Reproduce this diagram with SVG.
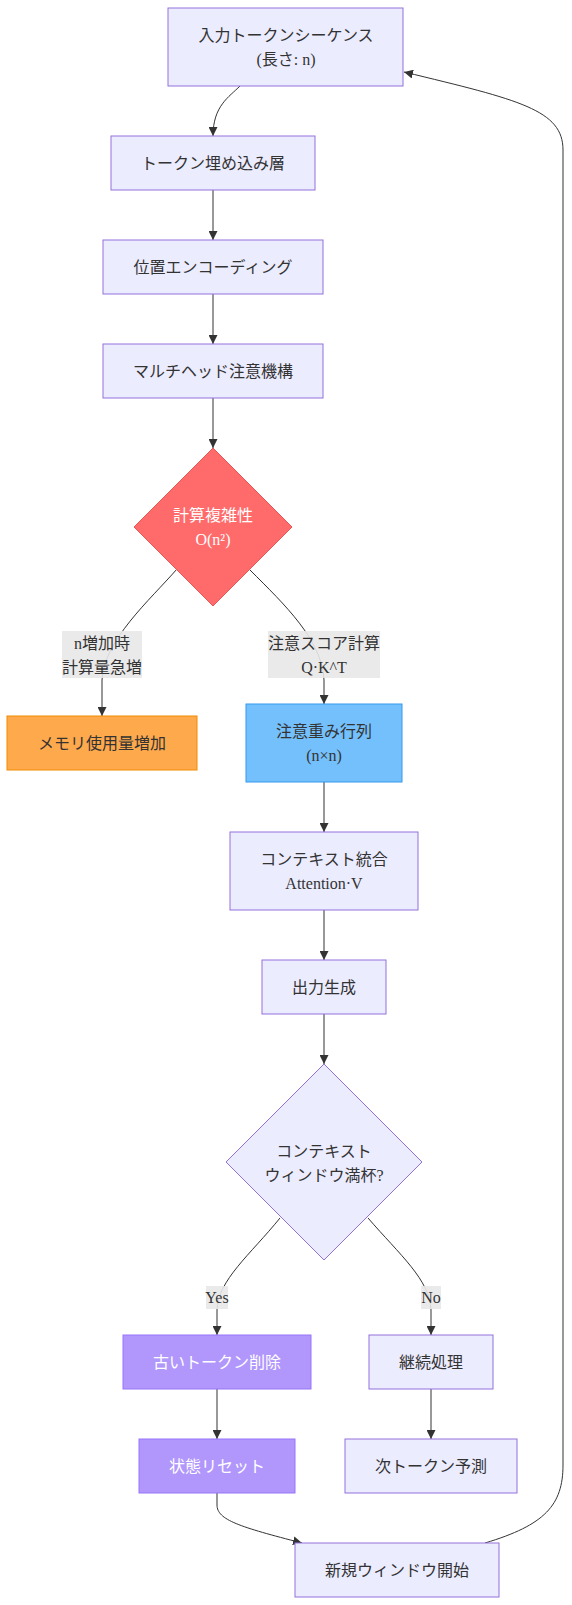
<svg xmlns="http://www.w3.org/2000/svg" width="572" height="1605" viewBox="0 0 572 1605">
<style>
text{font-family:"Liberation Serif","Noto Sans CJK JP",serif;font-size:16px;fill:#333;text-anchor:middle;dominant-baseline:central}
.n{fill:#ECECFF;stroke:#9370DB;stroke-width:1}
.w{fill:#fff}
.e{fill:none;stroke:#333;stroke-width:1}
.lb{fill:#e8e8e8;opacity:0.9}
</style>
<defs>
<marker id="ah" viewBox="0 0 10 10" refX="10" refY="5" markerWidth="9" markerHeight="9" markerUnits="userSpaceOnUse" orient="auto">
<path d="M0,0 L10,5 L0,10 z" fill="#333"/>
</marker>
</defs>
<g id="edges">
<path class="e" marker-end="url(#ah)" d="M240,86 C229,97 213,106 213,136"/>
<path class="e" marker-end="url(#ah)" d="M213,190 L213,240"/>
<path class="e" marker-end="url(#ah)" d="M213,294 L213,344"/>
<path class="e" marker-end="url(#ah)" d="M213,398 L213,448"/>
<path class="e" marker-end="url(#ah)" d="M177,569 C150,600 104,640 102,680 L102,716"/>
<path class="e" marker-end="url(#ah)" d="M250,570 C285,605 322,640 324,680 L324,704"/>
<path class="e" marker-end="url(#ah)" d="M324,782 L324,832"/>
<path class="e" marker-end="url(#ah)" d="M324,910 L324,960"/>
<path class="e" marker-end="url(#ah)" d="M324,1014 L324,1064"/>
<path class="e" marker-end="url(#ah)" d="M280,1218 C250,1255 218,1280 217,1310 L217,1335"/>
<path class="e" marker-end="url(#ah)" d="M368,1218 C400,1255 430,1280 431,1310 L431,1335"/>
<path class="e" marker-end="url(#ah)" d="M217,1389 L217,1439"/>
<path class="e" marker-end="url(#ah)" d="M431,1389 L431,1439"/>
<path class="e" marker-end="url(#ah)" d="M217,1493 L217,1505 C217,1520 240,1527 302,1543"/>
<path class="e" marker-end="url(#ah)" d="M485,1543 C545,1525 563,1505 563,1465 L563,150 C563,110 520,100 404,72"/>
<g id="edge-labels">
<rect class="lb" x="62" y="631" width="80" height="47"/>
<text x="102" y="643">n増加時</text>
<text x="102" y="667">計算量急増</text>
<rect class="lb" x="268" y="631" width="112" height="47"/>
<text x="324" y="643">注意スコア計算</text>
<text x="324" y="667">Q·K^T</text>
<rect class="lb" x="206" y="1286" width="22" height="23"/>
<text x="217" y="1297">Yes</text>
<rect class="lb" x="421" y="1286" width="20" height="23"/>
<text x="431" y="1297">No</text>
</g>
</g>
<g id="input">
<rect class="n" x="168" y="8" width="235" height="78"/>
<text x="286" y="35">入力トークンシーケンス</text>
<text x="286" y="59">(長さ: n)</text>
</g>
<g id="embed">
<rect class="n" x="111" y="136" width="204" height="54"/>
<text x="213" y="163">トークン埋め込み層</text>
</g>
<g id="posenc">
<rect class="n" x="103" y="240" width="220" height="54"/>
<text x="213" y="267">位置エンコーディング</text>
</g>
<g id="mha">
<rect class="n" x="103" y="344" width="220" height="54"/>
<text x="213" y="371">マルチヘッド注意機構</text>
</g>
<g id="complexity">
<polygon points="213,448 292,527 213,606 134,527" fill="#FF6B6B" stroke="#E85555" stroke-width="1"/>
<text class="w" x="213" y="515">計算複雑性</text>
<text class="w" x="213" y="539">O(n²)</text>
</g>
<g id="memory">
<rect x="7" y="716" width="190" height="54" fill="#FFA94D" stroke="#F08C00" stroke-width="1"/>
<text x="102" y="743">メモリ使用量増加</text>
</g>
<g id="attnmatrix">
<rect x="246" y="704" width="156" height="78" fill="#74C0FC" stroke="#339AF0" stroke-width="1"/>
<text x="324" y="731">注意重み行列</text>
<text x="324" y="755">(n×n)</text>
</g>
<g id="context">
<rect class="n" x="230" y="832" width="188" height="78"/>
<text x="324" y="859">コンテキスト統合</text>
<text x="324" y="883">Attention·V</text>
</g>
<g id="output">
<rect class="n" x="262" y="960" width="124" height="54"/>
<text x="324" y="987">出力生成</text>
</g>
<g id="windowfull">
<polygon class="n" points="324,1064 422,1162 324,1260 226,1162"/>
<text x="324" y="1151">コンテキスト</text>
<text x="324" y="1175">ウィンドウ満杯?</text>
</g>
<g id="droptokens">
<rect x="123" y="1335" width="188" height="54" fill="#B197FC" stroke="#9775FA" stroke-width="1"/>
<text class="w" x="217" y="1362">古いトークン削除</text>
</g>
<g id="continue">
<rect class="n" x="369" y="1335" width="124" height="54"/>
<text x="431" y="1362">継続処理</text>
</g>
<g id="reset">
<rect x="139" y="1439" width="156" height="54" fill="#B197FC" stroke="#9775FA" stroke-width="1"/>
<text class="w" x="217" y="1466">状態リセット</text>
</g>
<g id="nexttoken">
<rect class="n" x="345" y="1439" width="172" height="54"/>
<text x="431" y="1466">次トークン予測</text>
</g>
<g id="newwindow">
<rect class="n" x="295" y="1543" width="204" height="54"/>
<text x="397" y="1570">新規ウィンドウ開始</text>
</g>
</svg>
